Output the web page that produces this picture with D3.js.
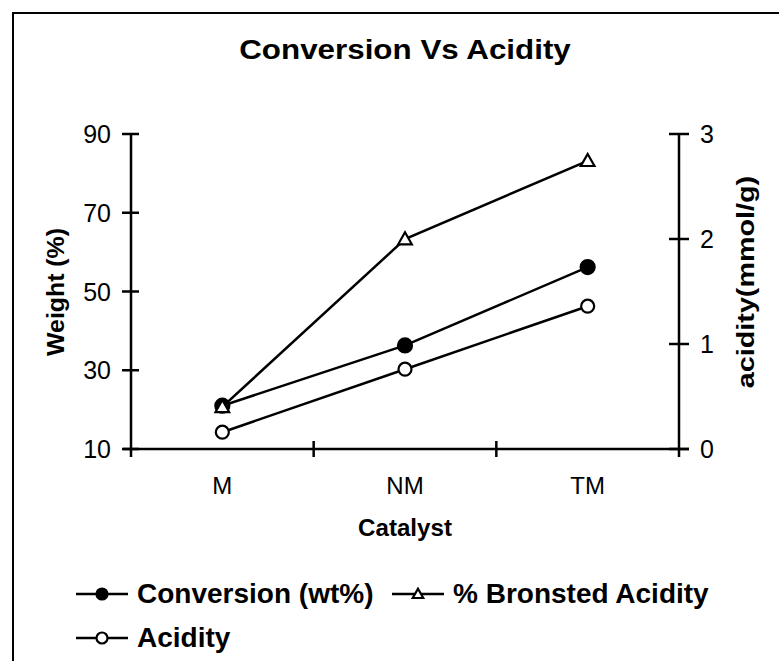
<!DOCTYPE html>
<html>
<head>
  <meta charset="utf-8">
  <title>Conversion Vs Acidity</title>
  <script src="https://cdn.jsdelivr.net/npm/d3@7"></script>
  <style>
    body { margin: 0; background: #fff; }
    svg text { font-family: "Liberation Sans", Arial, sans-serif; fill: #000; }
  </style>
</head>
<body>
<div id="chart"></div>
<script>
  var catalysts = ["M", "NM", "TM"];
  var conversion = [21, 36.3, 56.2];      // wt%, left axis
  var bronsted = [20.7, 63.3, 83.2];      // %, left axis
  var acidity = [0.16, 0.76, 1.36];       // mmol/g, right axis
  var leftTicks = [10, 30, 50, 70, 90];
  var rightTicks = [0, 1, 2, 3];

  var width = 779, height = 661;
  var plot = {left: 131, right: 679, top: 134, bottom: 449};

  var svg = d3.select("#chart").append("svg")
      .attr("width", width)
      .attr("height", height);

  // frame (only top and left edges are inside the picture)
  svg.append("path")
      .attr("d", "M13,661V13H779")
      .attr("fill", "none")
      .attr("stroke", "#000")
      .attr("stroke-width", 2);

  var x = d3.scaleBand().domain(catalysts).range([plot.left, plot.right]);
  var yLeft = d3.scaleLinear().domain([10, 90]).range([plot.bottom, plot.top]);
  var yRight = d3.scaleLinear().domain([0, 3]).range([plot.bottom, plot.top]);

  // text that is stretched along its line, as in the scanned chart
  function stretchedText(tx, ty, rot, sx, size, str) {
    svg.append("g")
        .attr("transform", "translate(" + tx + "," + ty + ") rotate(" + rot + ") scale(" + sx + ",1)")
      .append("text")
        .attr("text-anchor", "middle")
        .attr("font-size", size).attr("font-weight", "bold")
        .text(str);
  }

  stretchedText(405, 59, 0, 1.12, 28, "Conversion Vs Acidity");

  // axes
  var axisStroke = 2.5;
  svg.append("line")
      .attr("x1", plot.left).attr("x2", plot.left)
      .attr("y1", plot.top).attr("y2", plot.bottom + 8)
      .attr("stroke", "#000").attr("stroke-width", axisStroke);
  svg.append("line")
      .attr("x1", plot.right).attr("x2", plot.right)
      .attr("y1", plot.top).attr("y2", plot.bottom + 8)
      .attr("stroke", "#000").attr("stroke-width", axisStroke);
  svg.append("line")
      .attr("x1", plot.left - 8).attr("x2", plot.right + 10)
      .attr("y1", plot.bottom).attr("y2", plot.bottom)
      .attr("stroke", "#000").attr("stroke-width", axisStroke);

  var lt = svg.append("g").selectAll("g").data(leftTicks).enter().append("g")
      .attr("transform", function(d) { return "translate(0," + yLeft(d) + ")"; });
  lt.append("line")
      .attr("x1", plot.left - 9).attr("x2", plot.left + 8)
      .attr("stroke", "#000").attr("stroke-width", axisStroke);
  lt.append("text")
      .attr("x", 111).attr("dy", "0.36em")
      .attr("text-anchor", "end")
      .attr("font-size", 25)
      .text(function(d) { return d; });

  var rt = svg.append("g").selectAll("g").data(rightTicks).enter().append("g")
      .attr("transform", function(d) { return "translate(0," + yRight(d) + ")"; });
  rt.append("line")
      .attr("x1", plot.right - 10).attr("x2", plot.right + 10)
      .attr("stroke", "#000").attr("stroke-width", axisStroke);
  rt.append("text")
      .attr("x", 700).attr("dy", "0.36em")
      .attr("font-size", 25)
      .text(function(d) { return d; });

  // x ticks at category boundaries
  var bounds = catalysts.map(function(c) { return x(c) + x.bandwidth(); });
  svg.append("g").selectAll("line").data(bounds.slice(0, -1)).enter().append("line")
      .attr("x1", function(d) { return d; }).attr("x2", function(d) { return d; })
      .attr("y1", plot.bottom - 8).attr("y2", plot.bottom + 8)
      .attr("stroke", "#000").attr("stroke-width", axisStroke);

  svg.append("g").selectAll("text").data(catalysts).enter().append("text")
      .attr("x", function(d) { return x(d) + x.bandwidth() / 2; })
      .attr("y", 494)
      .attr("text-anchor", "middle")
      .attr("font-size", 24)
      .text(function(d) { return d; });

  stretchedText(405, 536, 0, 1.05, 23, "Catalyst");
  stretchedText(64, 292, -90, 1.08, 23, "Weight (%)");
  stretchedText(754, 282, -90, 1.25, 23, "acidity(mmol/g)");

  // series
  var series = [
    {name: "Conversion (wt%)", values: conversion, y: yLeft, marker: "filled"},
    {name: "% Bronsted Acidity", values: bronsted, y: yLeft, marker: "triangle"},
    {name: "Acidity", values: acidity, y: yRight, marker: "open"}
  ];

  function drawMarker(g, type, r) {
    if (type === "triangle") {
      g.append("path")
          .attr("d", "M0," + (-r * 1.05) + "L" + (r * 1.05) + "," + (r * 0.8) + "L" + (-r * 1.05) + "," + (r * 0.8) + "Z")
          .attr("fill", "#fff").attr("stroke", "#000").attr("stroke-width", 2.2);
    } else {
      g.append("circle")
          .attr("r", r)
          .attr("fill", type === "filled" ? "#000" : "#fff")
          .attr("stroke", "#000").attr("stroke-width", 2.2);
    }
  }

  var line = d3.line();
  series.forEach(function(s) {
    var pts = s.values.map(function(v, i) {
      return [x(catalysts[i]) + x.bandwidth() / 2, s.y(v)];
    });
    svg.append("path")
        .attr("d", line(pts))
        .attr("fill", "none")
        .attr("stroke", "#000")
        .attr("stroke-width", 2.5);
    pts.forEach(function(p) {
      var g = svg.append("g").attr("transform", "translate(" + p[0] + "," + p[1] + ")");
      drawMarker(g, s.marker, s.marker === "filled" ? 7 : 6.5);
    });
  });

  // legend
  var legendItems = [
    {s: series[0], x: 76, y: 594},
    {s: series[1], x: 392, y: 594},
    {s: series[2], x: 76, y: 638}
  ];
  legendItems.forEach(function(d) {
    var g = svg.append("g").attr("transform", "translate(" + d.x + "," + d.y + ")");
    g.append("line").attr("x1", 0).attr("x2", 52)
        .attr("stroke", "#000").attr("stroke-width", 2.5);
    var m = g.append("g").attr("transform", "translate(26,0)");
    drawMarker(m, d.s.marker, d.s.marker === "triangle" ? 5 : 5.5);
    g.append("text")
        .attr("x", 61).attr("y", 9)
        .attr("font-size", 28).attr("font-weight", "bold")
        .text(d.s.name);
  });
</script>
</body>
</html>
